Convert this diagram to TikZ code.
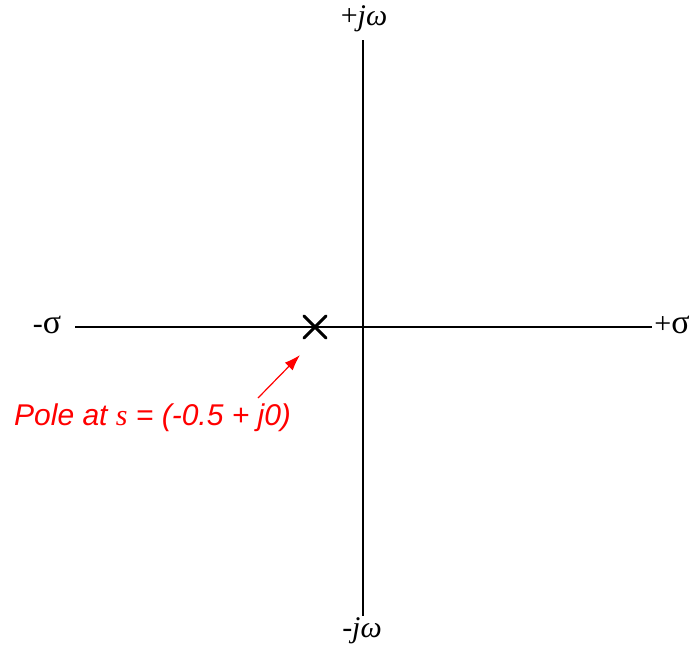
\documentclass[tikz,border=0pt]{standalone}
\usepackage{fontspec}
\setmainfont{Liberation Serif}
\newfontfamily\polefont{Liberation Sans}
\usetikzlibrary{arrows.meta,calc}
\begin{document}
\begin{tikzpicture}[x=1pt,y=-1pt,
  axis/.style={line width=1.5pt},
  lbl/.style={font=\fontsize{30}{34}\selectfont, inner sep=0pt},
  polemark/.style={line width=3pt, line cap=round},
  note/.style={red, font=\polefont\itshape\fontsize{30}{34}\selectfont, inner sep=0pt, anchor=base west},
  pointer/.style={red, line width=1.2pt, -{Latex[length=16pt,width=11pt]}}]
\useasboundingbox (0,0) rectangle (695,646);
\coordinate (top) at (363,40);
\coordinate (bot) at (363,616);
\coordinate (lft) at (75,327);
\coordinate (rgt) at (652,327);
\draw[axis] (top) -- (bot);
\draw[axis] (lft) -- (rgt);
\node[lbl] (jw) at (364,19) {+\textit{jω}};
\node[lbl] (mjw) at (362,631) {-\textit{jω}};
\node[lbl] (ms) at (47,325) {-{\fontsize{34}{34}\selectfont σ}};
\node[lbl] (ps) at (672,325) {+{\fontsize{34}{34}\selectfont σ}};
\coordinate (pole) at (315,327);
\draw[polemark] ($(pole)+(-11,-11)$) -- ($(pole)+(11,11)$);
\draw[polemark] ($(pole)+(-11,11)$) -- ($(pole)+(11,-11)$);
\node[note] (txt) at (14,425) {Pole at {\rmfamily s} = (-0.5 + j0)};
\coordinate (tail) at (258,398);
\coordinate (head) at (300,355);
\draw[pointer] (tail) -- (head);
\end{tikzpicture}
\end{document}
